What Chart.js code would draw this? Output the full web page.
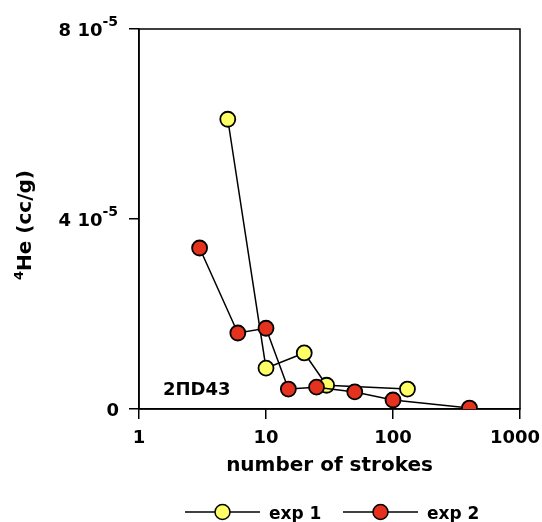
<!DOCTYPE html>
<html>
<head>
<meta charset="utf-8">
<script src="https://cdn.jsdelivr.net/npm/chart.js@4"></script>
<style>
  html, body { margin: 0; padding: 0; background: #fff; }
</style>
</head>
<body>
<canvas id="myChart" width="542" height="522"></canvas>
<script>
const exp1Strokes = [5, 10, 20, 30, 130];
const exp1He = [6.1e-5, 0.86e-5, 1.18e-5, 0.5e-5, 0.42e-5];
const exp2Strokes = [3, 6, 10, 15, 25, 50, 100, 400];
const exp2He = [3.39e-5, 1.6e-5, 1.7e-5, 0.42e-5, 0.46e-5, 0.36e-5, 0.19e-5, 0.02e-5];
const xTicks = [1, 10, 100, 1000];
const yTicks = [0, 4e-5, 8e-5];
const yTickMantissa = ['0', '4', '8'];

const FONT = 'DejaVu Sans';
const yellow = 'rgb(255, 255, 102)';
const red = 'rgb(228, 50, 30)';

function pts(xs, ys) {
  return xs.map((x, i) => ({ x: x, y: ys[i] }));
}

// text made of normal and superscript parts
function drawRich(ctx, parts, x, y, align) {
  let w = 0;
  parts.forEach(p => {
    ctx.font = 'bold ' + p.size + 'px "' + FONT + '"';
    p.w = ctx.measureText(p.text).width;
    w += p.w;
  });
  let cx = align === 'right' ? x - w : (align === 'center' ? x - w / 2 : x);
  parts.forEach(p => {
    ctx.font = 'bold ' + p.size + 'px "' + FONT + '"';
    ctx.fillText(p.text, cx, y + (p.dy || 0));
    cx += p.w;
  });
  return w;
}

const overlay = {
  id: 'overlay',
  beforeDatasetsDraw(chart) {
    const { ctx, chartArea: a } = chart;
    ctx.save();
    ctx.strokeStyle = '#000';
    ctx.lineWidth = 1.5;
    ctx.strokeRect(a.left, a.top, a.right - a.left, a.bottom - a.top);
    ctx.restore();
  },
  afterDraw(chart) {
    const { ctx, chartArea: a, scales } = chart;
    ctx.save();
    ctx.fillStyle = '#000';
    ctx.textAlign = 'left';
    ctx.textBaseline = 'alphabetic';

    // x tick labels (last one kept inside the canvas)
    xTicks.forEach(v => {
      const px = scales.x.getPixelForValue(v);
      ctx.font = 'bold 18px "' + FONT + '"';
      const w = ctx.measureText(String(v)).width;
      const left = Math.min(px - w / 2, chart.width - 2 - w);
      drawRich(ctx, [{ text: String(v), size: 18 }], left, a.bottom + 34, 'left');
    });

    // y tick labels
    yTicks.forEach((v, i) => {
      const py = scales.y.getPixelForValue(v);
      if (v === 0) {
        drawRich(ctx, [{ text: '0', size: 18 }], a.left - 20, py + 6.5, 'right');
      } else {
        drawRich(ctx, [
          { text: yTickMantissa[i] + ' 10', size: 18 },
          { text: '-5', size: 14, dy: -10 }
        ], a.left - 21, py + 6.5, 'right');
      }
    });

    // y axis title
    ctx.save();
    ctx.translate(31, 225);
    ctx.rotate(-Math.PI / 2);
    drawRich(ctx, [
      { text: '4', size: 13, dy: -8 },
      { text: 'He (cc/g)', size: 20 }
    ], 0, 0, 'center');
    ctx.restore();

    // sample label
    drawRich(ctx, [{ text: '2\u03A0D43', size: 18 }], a.left + 24, a.bottom - 14, 'left');

    // legend
    const ly = 512;
    const items = [
      { x0: 185, label: 'exp 1', color: yellow },
      { x0: 343, label: 'exp 2', color: red }
    ];
    items.forEach(it => {
      ctx.strokeStyle = '#000';
      ctx.lineWidth = 1.5;
      ctx.beginPath();
      ctx.moveTo(it.x0, ly);
      ctx.lineTo(it.x0 + 75, ly);
      ctx.stroke();
      ctx.beginPath();
      ctx.arc(it.x0 + 37.5, ly, 7.5, 0, Math.PI * 2);
      ctx.fillStyle = it.color;
      ctx.fill();
      ctx.stroke();
      ctx.fillStyle = '#000';
      drawRich(ctx, [{ text: it.label, size: 17 }], it.x0 + 84, ly + 6.5, 'left');
    });
    ctx.restore();
  }
};

const axisGrid = {
  display: true,
  drawOnChartArea: false,
  drawTicks: true,
  tickLength: 10,
  color: '#000',
  lineWidth: 1.5
};

const config = {
  type: 'scatter',
  data: {
    datasets: [
      {
        label: 'exp 1',
        data: pts(exp1Strokes, exp1He),
        showLine: true,
        borderColor: '#000',
        borderWidth: 1.5,
        pointBackgroundColor: yellow,
        pointBorderColor: '#000',
        pointBorderWidth: 1.8,
        pointRadius: 7.5,
        pointHoverRadius: 7.5,
        order: 2
      },
      {
        label: 'exp 2',
        data: pts(exp2Strokes, exp2He),
        showLine: true,
        borderColor: '#000',
        borderWidth: 1.5,
        pointBackgroundColor: red,
        pointBorderColor: '#000',
        pointBorderWidth: 1.8,
        pointRadius: 7.5,
        pointHoverRadius: 7.5,
        order: 1
      }
    ]
  },
  options: {
    responsive: false,
    animation: false,
    layout: { padding: { top: 29, right: 22, bottom: 40, left: 0 } },
    scales: {
      x: {
        type: 'logarithmic',
        min: 1,
        max: 1000,
        afterBuildTicks: s => { s.ticks = xTicks.map(v => ({ value: v })); },
        afterFit: s => { s.height = 73; s.paddingLeft = 0; s.paddingRight = 0; },
        ticks: { display: false },
        grid: axisGrid,
        border: { display: true, color: '#000', width: 1.5 },
        title: {
          display: true,
          text: 'number of strokes',
          font: { family: FONT, weight: 'bold', size: 20 },
          color: '#000',
          padding: { top: 4, bottom: 4 }
        }
      },
      y: {
        type: 'linear',
        min: 0,
        max: 8e-5,
        afterBuildTicks: s => { s.ticks = yTicks.map(v => ({ value: v })); },
        afterFit: s => { s.width = 139; s.paddingTop = 0; s.paddingBottom = 0; },
        ticks: { display: false },
        grid: axisGrid,
        border: { display: true, color: '#000', width: 1.5 }
      }
    },
    plugins: {
      legend: { display: false },
      tooltip: { enabled: false }
    }
  },
  plugins: [overlay]
};

const myChart = new Chart(document.getElementById('myChart'), config);
</script>
</body>
</html>
